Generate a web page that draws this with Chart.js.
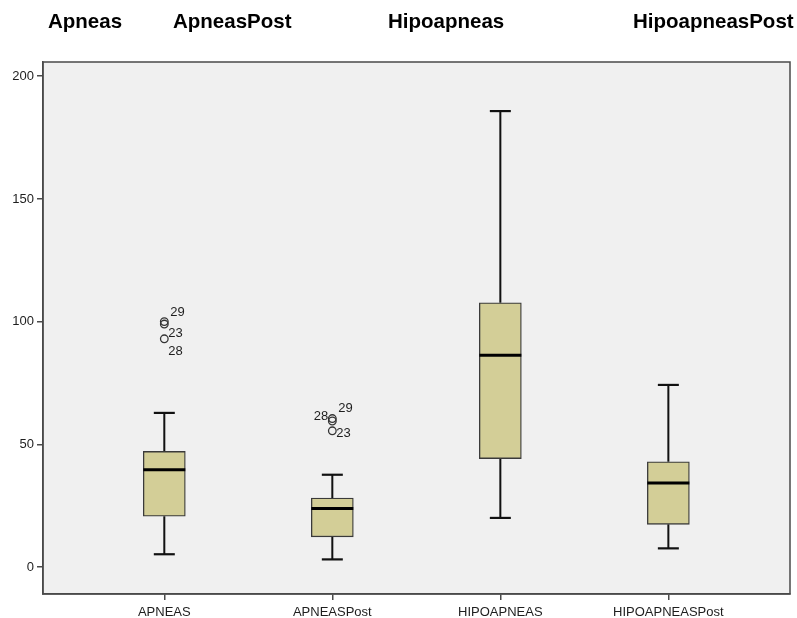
<!DOCTYPE html>
<html>
<head>
<meta charset="utf-8">
<script src="https://cdn.jsdelivr.net/npm/chart.js@4.4.1/dist/chart.umd.min.js"></script>
<style>
  html, body { margin: 0; padding: 0; background: #ffffff; }
  canvas { display: block; }
</style>
</head>
<body>
<canvas id="chart" width="797" height="618"></canvas>
<script>
// Box plot summary per variable
const categories   = ['APNEAS', 'APNEASPost', 'HIPOAPNEAS', 'HIPOAPNEASPost'];
const groupTitles  = ['Apneas', 'ApneasPost', 'Hipoapneas', 'HipoapneasPost'];
const whiskerLow   = [5.2, 3.1, 20.0, 7.6];
const quartile1    = [20.7, 12.3, 44.2, 17.4];
const medians      = [39.6, 23.8, 86.3, 34.2];
const quartile3    = [47.1, 28.1, 107.7, 42.9];
const whiskerHigh  = [62.8, 37.6, 185.8, 74.2];

// Outliers: which box they belong to, their value and case number
const outlierGroup = [0, 0, 0, 1, 1, 1];
const outlierValue = [100, 99, 93, 60.5, 59.5, 55.5];
const outlierCase  = ['29', '23', '28', '29', '28', '23'];

const yTicks = [0, 50, 100, 150, 200];

// ---- styling ----
const FONT = '"Liberation Sans", Arial, Helvetica, sans-serif';
const BOX_FILL = '#D3CE97';
const AXIS_COLOR = '#4a4a4a';
const TEXT_COLOR = '#1e1e1e';

// where each case label sits relative to its circle
const caseLabelPlacement = [
  { dx: 6,  dy: -9, align: 'left' },
  { dx: 4,  dy: 9,  align: 'left' },
  { dx: 4,  dy: 13, align: 'left' },
  { dx: 6,  dy: -10, align: 'left' },
  { dx: -4, dy: -5, align: 'right' },
  { dx: 4,  dy: 3,  align: 'left' }
];

// header words above the plot
const titleX = [48, 173, 388, 633];

const boxData = categories.map((_, i) => ({ x: i, y: [quartile1[i], quartile3[i]] }));
const medianData = categories.map((_, i) => ({ x: i, y: medians[i] }));
const whiskerSegments = [];
categories.forEach((_, i) => {
  whiskerSegments.push({ x: i, y: quartile3[i] }, { x: i, y: whiskerHigh[i] }, { x: i, y: null });
  whiskerSegments.push({ x: i, y: quartile1[i] }, { x: i, y: whiskerLow[i] }, { x: i, y: null });
});
const capData = [];
categories.forEach((_, i) => {
  capData.push({ x: i, y: whiskerHigh[i] }, { x: i, y: whiskerLow[i] });
});
const outlierData = outlierValue.map((v, k) => ({ x: outlierGroup[k], y: v }));

const plotBackground = {
  id: 'plotBackground',
  beforeDraw(chart) {
    const { ctx, chartArea: a } = chart;
    ctx.save();
    ctx.fillStyle = '#F0F0F0';
    ctx.fillRect(a.left, a.top, a.right - a.left, a.bottom - a.top);
    ctx.restore();
  },
  afterDraw(chart) {
    const { ctx, chartArea: a } = chart;
    ctx.save();
    ctx.strokeStyle = AXIS_COLOR;
    ctx.lineWidth = 1.5;
    ctx.strokeRect(a.left, a.top, a.right - a.left, a.bottom - a.top);
    ctx.restore();
  }
};

const headerTitles = {
  id: 'headerTitles',
  afterDraw(chart) {
    const { ctx } = chart;
    ctx.save();
    ctx.font = 'bold 20.5px ' + FONT;
    ctx.fillStyle = '#000';
    ctx.textAlign = 'left';
    ctx.textBaseline = 'middle';
    groupTitles.forEach((t, i) => ctx.fillText(t, titleX[i], 22));
    ctx.restore();
  }
};

const caseLabels = {
  id: 'caseLabels',
  afterDatasetsDraw(chart) {
    const idx = chart.data.datasets.findIndex(d => d.label === 'outliers');
    const meta = chart.getDatasetMeta(idx);
    const { ctx } = chart;
    ctx.save();
    ctx.font = '13px ' + FONT;
    ctx.fillStyle = TEXT_COLOR;
    ctx.textBaseline = 'middle';
    meta.data.forEach((pt, k) => {
      const p = caseLabelPlacement[k];
      ctx.textAlign = p.align;
      ctx.fillText(outlierCase[k], pt.x + p.dx, pt.y + p.dy);
    });
    ctx.restore();
  }
};

new Chart(document.getElementById('chart'), {
  type: 'bar',
  data: {
    datasets: [
      {
        type: 'scatter',
        label: 'medians',
        data: medianData,
        pointStyle: 'line',
        radius: 21,
        borderWidth: 3,
        borderColor: '#000',
        order: 0
      },
      {
        type: 'scatter',
        label: 'outliers',
        data: outlierData,
        pointStyle: 'circle',
        radius: 3.8,
        borderWidth: 1.3,
        borderColor: '#333',
        backgroundColor: 'rgba(0,0,0,0)',
        order: 0
      },
      {
        type: 'bar',
        label: 'boxes',
        data: boxData,
        backgroundColor: BOX_FILL,
        borderColor: '#3a3a3a',
        borderWidth: 1.3,
        borderSkipped: false,
        barThickness: 42,
        order: 1
      },
      {
        type: 'scatter',
        label: 'caps',
        data: capData,
        pointStyle: 'line',
        radius: 10.5,
        borderWidth: 2.2,
        borderColor: '#111',
        order: 2
      },
      {
        type: 'line',
        label: 'whiskers',
        data: whiskerSegments,
        borderColor: '#111',
        borderWidth: 2,
        pointRadius: 0,
        spanGaps: false,
        fill: false,
        order: 3
      }
    ]
  },
  options: {
    responsive: false,
    animation: false,
    events: [],
    devicePixelRatio: 1,
    layout: { autoPadding: false, padding: { top: 62, right: 7, left: 0, bottom: 0 } },
    plugins: {
      legend: { display: false },
      tooltip: { enabled: false },
      title: { display: false }
    },
    scales: {
      x: {
        type: 'linear',
        min: -0.722,
        max: 3.724,
        offset: false,
        afterBuildTicks(scale) { scale.ticks = categories.map((_, i) => ({ value: i })); },
        afterFit(scale) {
          scale.height = 24;
          scale.paddingLeft = 0;
          scale.paddingRight = 0;
        },
        ticks: {
          autoSkip: false,
          maxRotation: 0,
          padding: 5,
          color: TEXT_COLOR,
          font: { family: FONT, size: 13 },
          callback: (v) => categories[v]
        },
        grid: { display: true, drawOnChartArea: false, drawTicks: true, tickLength: 6, color: AXIS_COLOR, lineWidth: 1.5, offset: false },
        border: { display: true, color: AXIS_COLOR, width: 1.5 }
      },
      y: {
        type: 'linear',
        min: -11.0,
        max: 205.8,
        afterBuildTicks(scale) { scale.ticks = yTicks.map(v => ({ value: v })); },
        afterFit(scale) {
          scale.width = 43;
          scale.paddingTop = 0;
          scale.paddingBottom = 0;
        },
        ticks: {
          padding: 3,
          color: TEXT_COLOR,
          font: { family: FONT, size: 13 }
        },
        grid: { display: true, drawOnChartArea: false, drawTicks: true, tickLength: 6, color: AXIS_COLOR, lineWidth: 1.5 },
        border: { display: true, color: AXIS_COLOR, width: 1.5 }
      }
    }
  },
  plugins: [plotBackground, headerTitles, caseLabels]
});
</script>
</body>
</html>
